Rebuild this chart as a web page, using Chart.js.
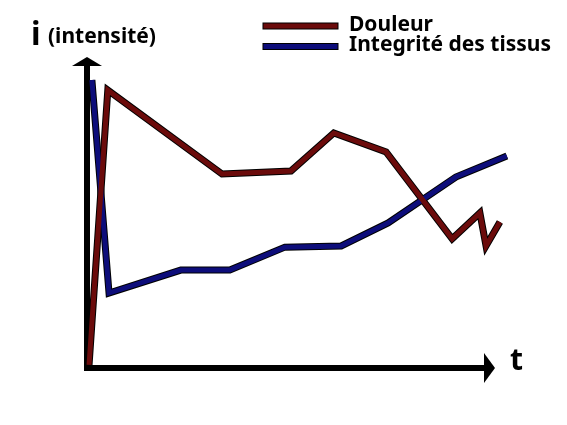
<!DOCTYPE html>
<html>
<head>
<meta charset="utf-8">
<script src="https://cdn.jsdelivr.net/npm/chart.js@4"></script>
<style>
  body { margin: 0; background: #fff; }
  #wrap { width: 567px; height: 425px; position: relative; }
</style>
</head>
<body>
<div id="wrap"><canvas id="myChart"></canvas></div>
<script>
// temps (t) et intensité (i), en % des axes
const douleurT = [0.5, 5.1, 33.1, 50.0, 60.5, 73.3, 89.5, 96.3, 97.8, 101.2];
const douleurI = [1.0, 90.8, 63.4, 64.4, 76.8, 70.6, 42.2, 50.7, 39.9, 47.7];
const tissusT = [1.2, 5.4, 23.0, 35.0, 48.5, 62.3, 73.8, 90.4, 102.9];
const tissusI = [94.1, 24.5, 32.0, 32.0, 39.5, 39.9, 47.4, 62.4, 69.3];
const seriesLabels = ['Douleur', 'Integrité des tissus'];
const seriesColors = ['#6b0b0b', '#0d0d7a'];

const pts = ( ts, is ) => ts.map( ( t, k ) => ( { x: t, y: is[k] } ) );

const ctx = document.getElementById( 'myChart' ).getContext( '2d' );

// axes avec flèches + titres
const axesPlugin = {
    id: 'axes',
    beforeDatasetsDraw( chart ) {
        const { ctx, chartArea: a } = chart;
        ctx.save();
        ctx.fillStyle = '#000';
        ctx.strokeStyle = '#000';
        ctx.lineWidth = 6;
        ctx.beginPath();
        ctx.moveTo( a.left, 66 );
        ctx.lineTo( a.left, a.bottom );
        ctx.lineTo( a.right - 10, a.bottom );
        ctx.stroke();
        // flèche verticale
        ctx.beginPath();
        ctx.moveTo( a.left, a.top - 5 );
        ctx.lineTo( a.left + 15, 66 );
        ctx.lineTo( a.left - 15, 66 );
        ctx.closePath();
        ctx.fill();
        // flèche horizontale
        ctx.beginPath();
        ctx.moveTo( a.right, a.bottom );
        ctx.lineTo( a.right - 11, a.bottom - 15 );
        ctx.lineTo( a.right - 11, a.bottom + 15 );
        ctx.closePath();
        ctx.fill();
        ctx.restore();
    },
    afterDraw( chart ) {
        const { ctx } = chart;
        ctx.save();
        ctx.fillStyle = '#000';
        ctx.textBaseline = 'alphabetic';
        ctx.font = 'bold 32px "Noto Sans"';
        ctx.fillText( 'i', 31, 45 );
        ctx.font = 'bold 21px "Noto Sans"';
        ctx.fillText( '(intensité)', 48, 43 );
        ctx.font = 'bold 30px "Noto Sans"';
        ctx.fillText( 't', 510, 370 );
        // légende
        ctx.font = 'bold 21px "Noto Sans"';
        seriesLabels.forEach( ( lab, k ) => {
            const y = 26 + k * 20.5;
            ctx.fillStyle = seriesColors[k];
            ctx.strokeStyle = '#000';
            ctx.lineWidth = 1;
            ctx.fillRect( 263, y - 3, 75, 6 );
            ctx.strokeRect( 263, y - 3, 75, 6 );
            ctx.fillStyle = '#000';
            ctx.textBaseline = 'middle';
            ctx.fillText( lab, 349, y - 1 );
        });
        ctx.restore();
    }
};

const line = ( data, color, width, order ) => ( {
    data: data,
    borderColor: color,
    borderWidth: width,
    pointRadius: 0,
    tension: 0,
    fill: false,
    clip: false,
    order: order
} );

new Chart( ctx, {
    type: 'line',
    data: {
        datasets: [
            Object.assign( line( pts( douleurT, douleurI ), seriesColors[0], 5, 0 ), { label: seriesLabels[0] } ),
            Object.assign( line( pts( tissusT, tissusI ), seriesColors[1], 5, 0 ), { label: seriesLabels[1] } ),
            line( pts( douleurT, douleurI ), '#000', 7, 1 ),
            line( pts( tissusT, tissusI ), '#000', 7, 1 )
        ]
    },
    options: {
        responsive: true,
        maintainAspectRatio: false,
        animation: false,
        events: [],
        layout: { padding: { left: 87, top: 62, right: 72, bottom: 57 } },
        scales: {
            x: { type: 'linear', min: 0, max: 100, display: false },
            y: { min: 0, max: 100, display: false }
        },
        plugins: {
            legend: { display: false },
            tooltip: { enabled: false }
        }
    },
    plugins: [ axesPlugin ]
});
</script>
</body>
</html>
